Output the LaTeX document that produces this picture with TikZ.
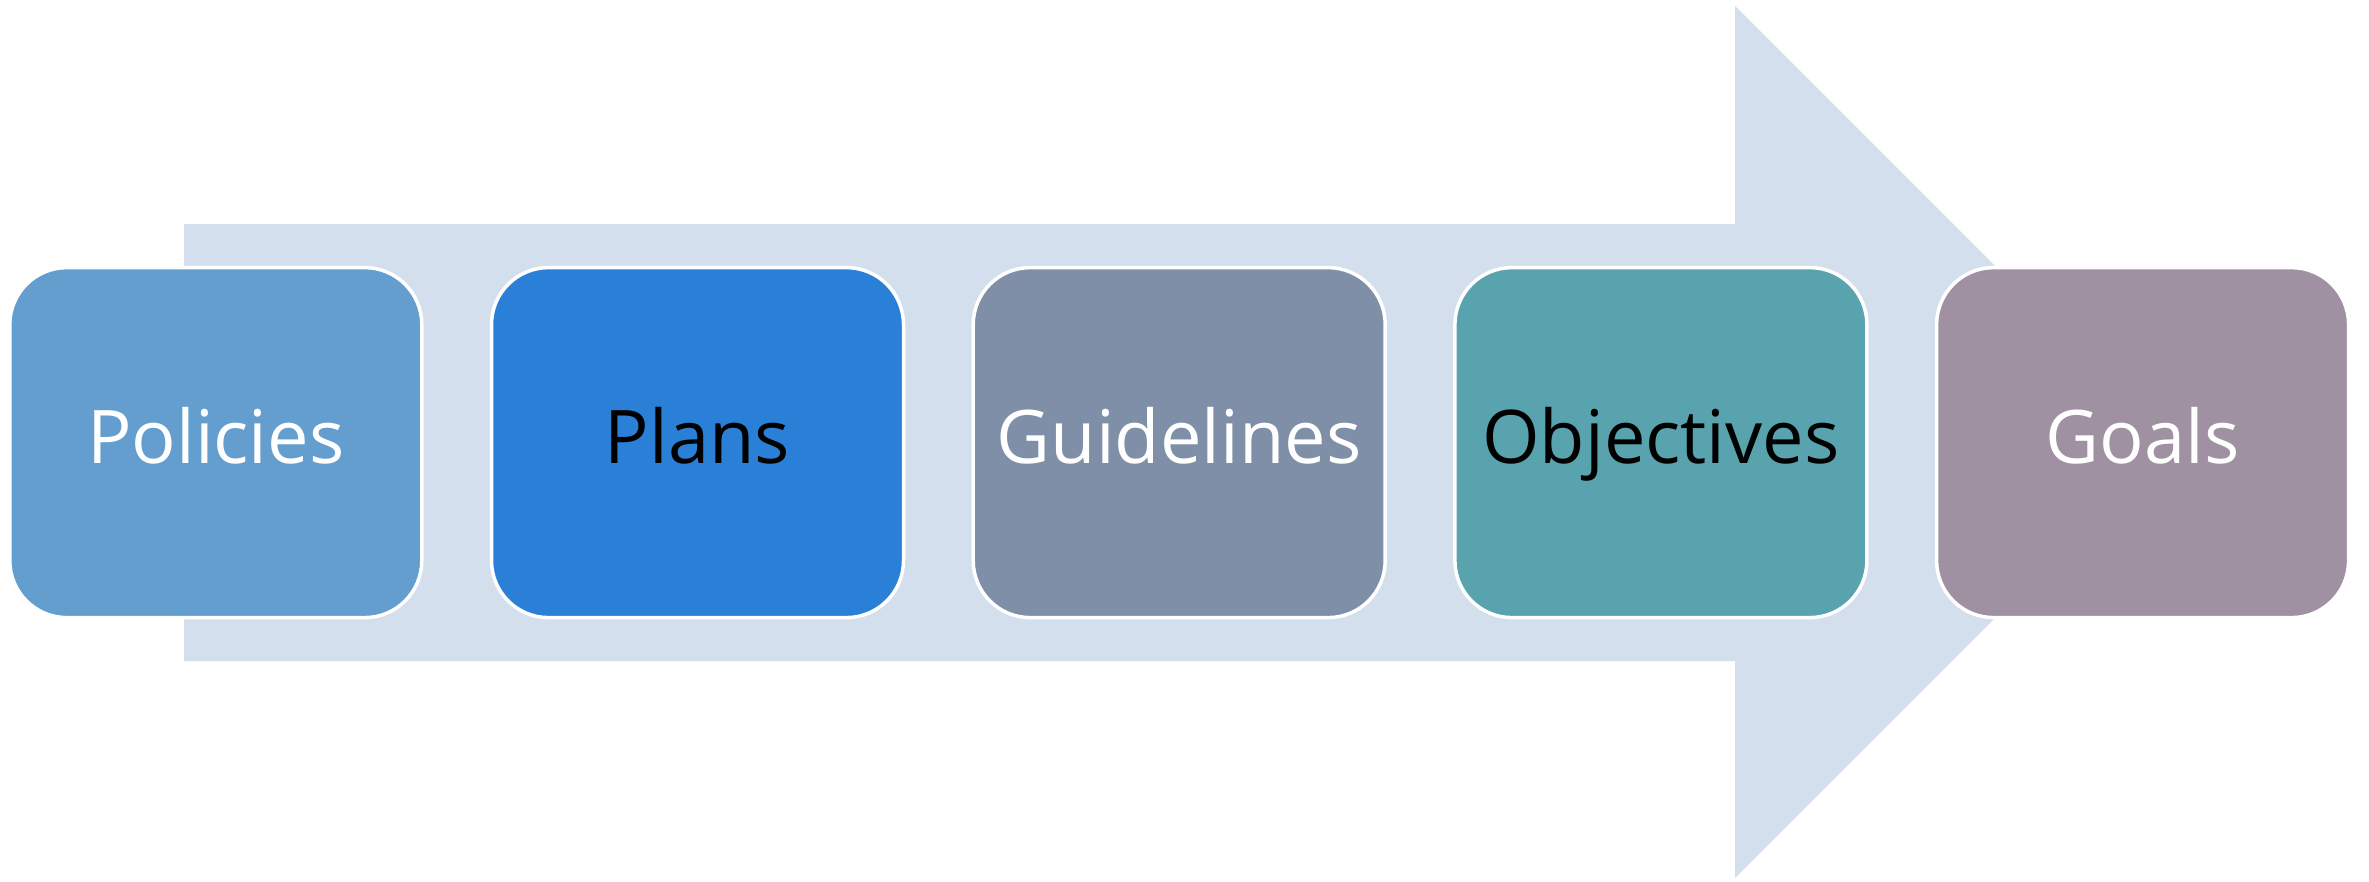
\documentclass[tikz,border=0pt]{standalone}
\usepackage{fontspec}
\setmainfont{Open Sans}
\definecolor{arrowfill}{RGB}{212,223,238}
\definecolor{cPol}{RGB}{99,158,207}
\definecolor{cPla}{RGB}{42,127,214}
\definecolor{cGui}{RGB}{127,143,168}
\definecolor{cObj}{RGB}{89,163,175}
\definecolor{cGoa}{RGB}{159,144,162}
\tikzset{
  stagebox/.style={draw=white, line width=3.5pt, rounded corners=57pt,
    minimum width=412pt, minimum height=350pt, inner sep=0pt,
    text height=60pt, text depth=19pt,
    font=\fontsize{74}{88}\selectfont},
}
\begin{document}
\begin{tikzpicture}[x=1pt,y=-1pt]
\useasboundingbox (0,0) rectangle (2369,881);
\fill[arrowfill] (184,224) -- (1735,224) -- (1735,6) -- (2171,442) -- (1735,878) -- (1735,661) -- (184,661) -- cycle;
\node[stagebox, fill=cPol, text=white] (pol) at (215.8,442.6) {Policies};
\node[stagebox, fill=cPla, text=black] (pla) at (697.5,442.6) {Plans};
\node[stagebox, fill=cGui, text=white] (gui) at (1179.2,442.6) {Guidelines};
\node[stagebox, fill=cObj, text=black] (obj) at (1660.9,442.6) {Objectives};
\node[stagebox, fill=cGoa, text=white] (goa) at (2142.6,442.6) {Goals};
\end{tikzpicture}
\end{document}
